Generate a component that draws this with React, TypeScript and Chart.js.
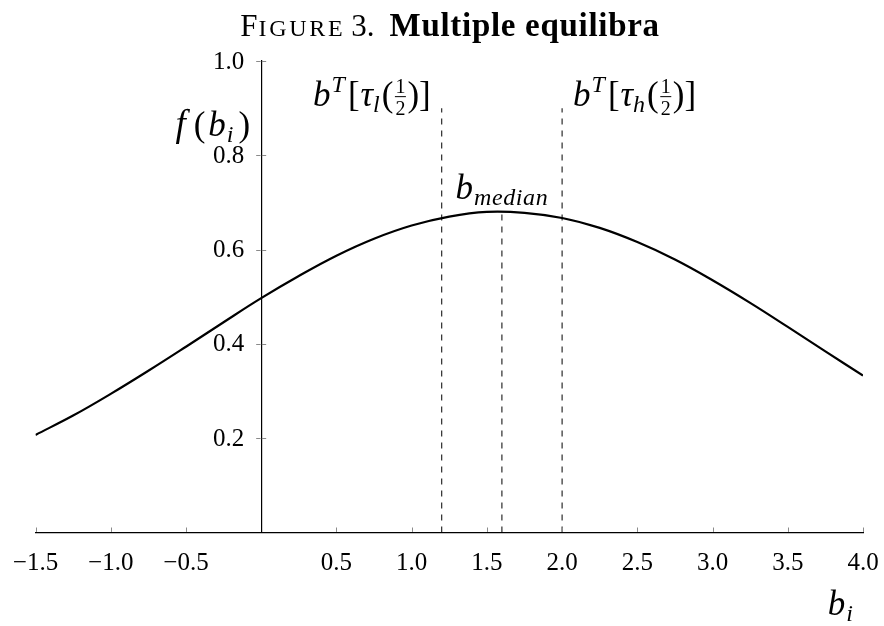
import React, { useEffect, useRef } from 'react';
import { Chart, registerables } from 'chart.js';

Chart.register(...registerables);

// ---- data ----
const bValues = [-1.5, -1.25, -1.0, -0.75, -0.5, -0.25, 0.0, 0.25, 0.5, 0.75, 1.0, 1.25, 1.5, 1.75, 2.0, 2.25, 2.5, 2.75, 3.0, 3.25, 3.5, 3.75, 4.0];
const densityValues = [0.207, 0.248, 0.294, 0.343, 0.394, 0.446, 0.497, 0.544, 0.587, 0.623, 0.651, 0.670, 0.680, 0.678, 0.667, 0.646, 0.616, 0.579, 0.535, 0.487, 0.436, 0.384, 0.333];
const markerX = [1.2, 1.6, 2.0];
const markerTop = [0.9, 0.68, 0.9];
const xTickStep = 0.5;
const yTickStep = 0.2;

const SERIF = '"Liberation Serif", "DejaVu Serif", serif';

type Seg = { t?: string; size: number; italic?: boolean; bold?: boolean; dy?: number; gap?: number; frac?: [string, string]; spacing?: number };

function segFont(s: Seg) {
  return `${s.italic ? 'italic ' : ''}${s.bold ? 'bold ' : ''}${s.size}px ${SERIF}`;
}

function segWidth(ctx: CanvasRenderingContext2D, s: Seg) {
  ctx.font = segFont(s);
  (ctx as any).letterSpacing = `${s.spacing || 0}px`;
  if (s.frac) {
    return Math.max(ctx.measureText(s.frac[0]).width, ctx.measureText(s.frac[1]).width) + 2;
  }
  return ctx.measureText(s.t || '').width;
}

function drawRich(ctx: CanvasRenderingContext2D, segs: Seg[], x: number, y: number, align: 'left' | 'right' | 'center') {
  let total = 0;
  segs.forEach((s) => { total += segWidth(ctx, s) + (s.gap || 0); });
  let cx = align === 'right' ? x - total : align === 'center' ? x - total / 2 : x;
  ctx.textAlign = 'left';
  ctx.textBaseline = 'alphabetic';
  ctx.fillStyle = '#000';
  segs.forEach((s) => {
    const w = segWidth(ctx, s);
    ctx.font = segFont(s);
    (ctx as any).letterSpacing = `${s.spacing || 0}px`;
    if (s.frac) {
      const mid = cx + w / 2;
      ctx.textAlign = 'center';
      ctx.fillText(s.frac[0], mid, y - 13);
      ctx.fillText(s.frac[1], mid, y + 9);
      ctx.textAlign = 'left';
      ctx.beginPath();
      ctx.lineWidth = 1;
      ctx.strokeStyle = '#000';
      ctx.moveTo(cx + 0.5, y - 9.5);
      ctx.lineTo(cx + w - 0.5, y - 9.5);
      ctx.stroke();
    } else {
      ctx.fillText(s.t || '', cx, y + (s.dy || 0));
    }
    cx += w + (s.gap || 0);
  });
  (ctx as any).letterSpacing = '0px';
}

const L = 35;
const S = 24;
const fLabel: Seg[] = [
  { t: 'f', size: 37, italic: true, gap: 8 },
  { t: '(', size: L, gap: 3 },
  { t: 'b', size: L, italic: true, gap: 1 },
  { t: 'i', size: S, italic: true, dy: 6, gap: 5 },
  { t: ')', size: L },
];
const tauL: Seg[] = [
  { t: 'b', size: L, italic: true, gap: 1 },
  { t: 'T', size: S, italic: true, dy: -14, gap: 3 },
  { t: '[', size: L, gap: 1 },
  { t: 'τ', size: L, italic: true, gap: 0 },
  { t: 'l', size: S, italic: true, dy: 6, gap: 2 },
  { t: '(', size: L, gap: 1 },
  { frac: ['1', '2'], size: 20, gap: 1 },
  { t: ')', size: L, gap: 0 },
  { t: ']', size: L },
];
const tauH: Seg[] = [
  { t: 'b', size: L, italic: true, gap: 1 },
  { t: 'T', size: S, italic: true, dy: -14, gap: 3 },
  { t: '[', size: L, gap: 1 },
  { t: 'τ', size: L, italic: true, gap: 0 },
  { t: 'h', size: S, italic: true, dy: 6, gap: 2 },
  { t: '(', size: L, gap: 1 },
  { frac: ['1', '2'], size: 20, gap: 1 },
  { t: ')', size: L, gap: 0 },
  { t: ']', size: L },
];
const medianLabel: Seg[] = [
  { t: 'b', size: L, italic: true, gap: 1 },
  { t: 'median', size: S, italic: true, dy: 6, spacing: 0.6 },
];
const biLabel: Seg[] = [
  { t: 'b', size: L, italic: true, gap: 1 },
  { t: 'i', size: S, italic: true, dy: 6 },
];
const titleSegs: Seg[] = [
  { t: 'F', size: 31, gap: 1 },
  { t: 'IGURE', size: 24, spacing: 2.7, gap: 6 },
  { t: '3.', size: 31, gap: 15 },
  { t: 'Multiple equilibra', size: 33, bold: true, spacing: 0.7 },
];

const TICK_FONT = `25px ${SERIF}`;

function fmt(v: number) {
  if (Math.abs(v) < 1e-9) return '';
  const s = Math.abs(v).toFixed(1);
  return v < 0 ? '\u2212' + s : s;
}

const decorPlugin = {
  id: 'decor',
  afterDraw(chart: any) {
    const ctx: CanvasRenderingContext2D = chart.ctx;
    const xs = chart.scales.x;
    const ys = chart.scales.y;
    const x0 = xs.getPixelForValue(0);
    const y0 = ys.getPixelForValue(0);
    ctx.save();
    // tick marks
    ctx.strokeStyle = '#8a8a8a';
    ctx.lineWidth = 1;
    ctx.beginPath();
    xs.ticks.forEach((t: any) => {
      if (Math.abs(t.value) < 1e-9) return;
      const px = Math.round(xs.getPixelForValue(t.value)) + 0.5;
      ctx.moveTo(px, y0 - 5);
      ctx.lineTo(px, y0 - 0.6);
    });
    ys.ticks.forEach((t: any) => {
      if (Math.abs(t.value) < 1e-9) return;
      const py = Math.round(ys.getPixelForValue(t.value)) + 0.5;
      ctx.moveTo(x0 - 5, py);
      ctx.lineTo(x0 - 0.6, py);
      ctx.moveTo(x0 + 0.6, py);
      ctx.lineTo(x0 + 5, py);
    });
    ctx.stroke();

    // y tick labels (from the y scale's own ticks)
    ctx.fillStyle = '#000';
    ctx.font = TICK_FONT;
    ctx.textAlign = 'right';
    ctx.textBaseline = 'middle';
    ys.ticks.forEach((t: any) => {
      const s = fmt(t.value);
      if (!s) return;
      ctx.fillText(s, x0 - 17, ys.getPixelForValue(t.value) + 1);
    });

    // labels
    const pxL = xs.getPixelForValue(markerX[0]);
    const pyL = ys.getPixelForValue(markerTop[0]);
    const pxH = xs.getPixelForValue(markerX[2]);
    const pyH = ys.getPixelForValue(markerTop[2]);
    drawRich(ctx, tauL, pxL - 11, pyL - 2, 'right');
    drawRich(ctx, tauH, pxH + 11, pyH - 2, 'left');
    drawRich(ctx, medianLabel, xs.getPixelForValue(markerX[1]), ys.getPixelForValue(markerTop[1]) - 13, 'center');
    drawRich(ctx, fLabel, x0 - 11, ys.getPixelForValue(0.84), 'right');
    drawRich(ctx, biLabel, xs.getPixelForValue(3.85), y0 + 82, 'center');
    drawRich(ctx, titleSegs, 450, 36, 'center');
    ctx.restore();
  },
};

export default function App() {
  const ref = useRef<HTMLCanvasElement | null>(null);
  useEffect(() => {
    if (!ref.current) return;
    const curve = bValues.map((x, i) => ({ x, y: densityValues[i] }));
    const markers = markerX.map((x, i) => ({
      data: [{ x, y: 0 }, { x, y: markerTop[i] }],
      borderColor: '#000',
      borderWidth: 1,
      borderDash: [6, 6],
      pointRadius: 0,
      showLine: true,
      fill: false,
    }));
    const chart = new Chart(ref.current, {
      type: 'scatter',
      data: {
        datasets: [
          {
            data: curve,
            borderColor: '#000',
            borderWidth: 2.2,
            pointRadius: 0,
            showLine: true,
            fill: false,
            tension: 0.4,
          } as any,
          ...(markers as any[]),
        ],
      },
      options: {
        animation: false,
        responsive: false,
        maintainAspectRatio: false,
        devicePixelRatio: 1,
        events: [],
        layout: { padding: { left: 35.5, right: 21, top: 61, bottom: 0 } },
        plugins: { legend: { display: false }, tooltip: { enabled: false }, title: { display: false } },
        scales: {
          x: {
            type: 'linear',
            min: -1.5,
            max: 4,
            position: 'bottom',
            afterFit: (s: any) => { s.height = 93.5; s.paddingLeft = 0; s.paddingRight = 0; },
            border: { display: true, color: '#000', width: 1.2 },
            grid: { display: true, drawOnChartArea: false, drawTicks: false },
            ticks: {
              stepSize: xTickStep,
              autoSkip: false,
              maxRotation: 0,
              padding: 16,
              color: '#000',
              font: { family: SERIF, size: 25 },
              callback: (v: any) => fmt(Number(v)),
            },
          },
          y: {
            type: 'linear',
            min: 0,
            max: 1,
            position: { x: 0 } as any,
            afterFit: (s: any) => { s.paddingTop = 0; s.paddingBottom = 0; },
            border: { display: true, color: '#000', width: 1.2 },
            grid: { display: true, drawOnChartArea: false, drawTicks: false },
            ticks: {
              stepSize: yTickStep,
              autoSkip: false,
              display: false,
            },
          },
        },
      } as any,
      plugins: [decorPlugin],
    });
    return () => chart.destroy();
  }, []);
  return (
    <div style={{ position: 'absolute', left: 0, top: 0, width: 884, height: 626, background: '#fff' }}>
      <canvas ref={ref} width={884} height={626} style={{ display: 'block', width: 884, height: 626 }} />
    </div>
  );
}
